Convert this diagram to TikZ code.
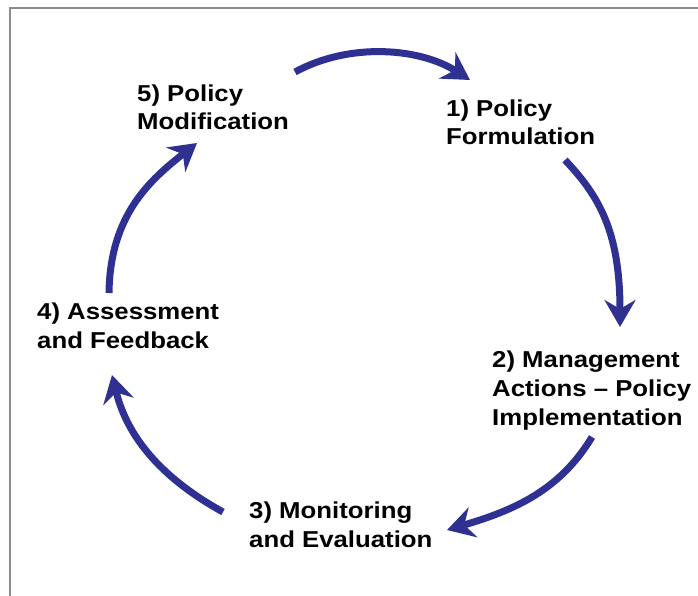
\documentclass[tikz,border=0pt]{standalone}
\usepackage{fontspec}
\setmainfont{Liberation Sans}[FakeStretch=1.12]
\usetikzlibrary{arrows.meta}
\definecolor{cycblue}{RGB}{46,49,146}
\definecolor{framegray}{RGB}{140,140,140}
\begin{document}
\begin{tikzpicture}[x=1pt,y=-1pt,
  lbl/.style={anchor=base west,inner sep=0pt,align=left,font=\fontsize{23}{28.8}\selectfont\bfseries},
  cyc/.style={draw=cycblue,line width=7pt,-{Stealth[length=27pt,width=31pt,inset=9pt]}}]
\useasboundingbox (0,0) rectangle (698,596);
\draw[framegray,line width=1.6pt] (10,600) -- (10,8) -- (702,8);
\node[lbl] (n5) at (137,130) {5) Policy\\Modification};
\node[lbl] (n1) at (446,145) {1) Policy\\Formulation};
\node[lbl] (n2) at (492,425) {2) Management\\Actions -- Policy\\Implementation};
\node[lbl] (n3) at (249,547) {3) Monitoring\\and Evaluation};
\node[lbl] (n4) at (37,348) {4) Assessment\\and Feedback};
\coordinate (a0) at (295,72);  \coordinate (a1) at (470,80);
\coordinate (b0) at (565,160); \coordinate (b1) at (620,327);
\coordinate (c0) at (592,437); \coordinate (c1) at (447,530);
\coordinate (d0) at (223,512); \coordinate (d1) at (112,375);
\coordinate (e0) at (109,293); \coordinate (e1) at (197,143);
\draw[cyc] (a0) .. controls (350,42) and (420,48) .. (a1);
\draw[cyc] (b0) .. controls (598,195) and (620,230) .. (b1);
\draw[cyc] (c0) .. controls (560,490) and (515,510) .. (c1);
\draw[cyc] (d0) .. controls (165,480) and (128,440) .. (d1);
\draw[cyc] (e0) .. controls (110,215) and (150,180) .. (e1);
\end{tikzpicture}
\end{document}
